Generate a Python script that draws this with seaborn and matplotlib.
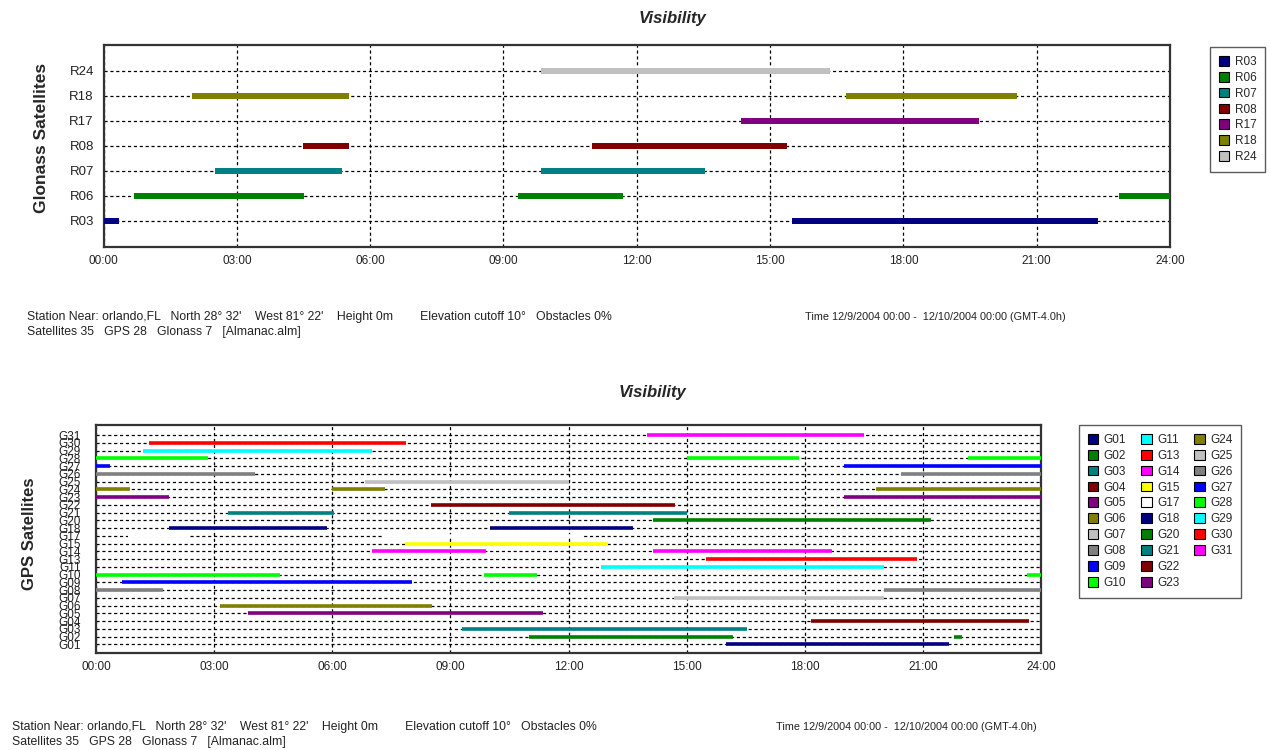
import pandas as pd
import seaborn as sns
import matplotlib.pyplot as plt
from matplotlib.patches import Patch


# satellites shown on each chart (bottom row first)
glo_rows = ['R03', 'R06', 'R07', 'R08', 'R17', 'R18', 'R24']
gps_rows = ['G01', 'G02', 'G03', 'G04', 'G05', 'G06', 'G07', 'G08', 'G09', 'G10',
            'G11', 'G13', 'G14', 'G15', 'G17', 'G18', 'G20', 'G21', 'G22', 'G23',
            'G24', 'G25', 'G26', 'G27', 'G28', 'G29', 'G30', 'G31']

# visibility passes, hours after 12/9/2004 00:00
glo_sat = ['R03', 'R03', 'R06', 'R06', 'R06', 'R07', 'R07', 'R08', 'R08', 'R17',
           'R18', 'R18', 'R24']
glo_start = [0.0, 15.5, 0.68, 9.33, 22.85, 2.5, 9.85, 4.5, 11.0, 14.35, 2.0, 16.7, 9.85]
glo_end = [0.35, 22.37, 4.52, 11.7, 24.0, 5.36, 13.54, 5.53, 15.38, 19.7, 5.53, 20.55, 16.35]

gps_sat = ['G01', 'G02', 'G02', 'G03', 'G04', 'G05', 'G06', 'G07', 'G08', 'G08',
           'G09', 'G10', 'G10', 'G10', 'G11', 'G13', 'G14', 'G14', 'G15', 'G17',
           'G17', 'G18', 'G18', 'G20', 'G21', 'G21', 'G22', 'G23', 'G23', 'G24',
           'G24', 'G24', 'G25', 'G26', 'G26', 'G27', 'G27', 'G28', 'G28', 'G28',
           'G29', 'G30', 'G31']
gps_start = [16.0, 11.0, 21.8, 9.3, 18.15, 3.85, 3.15, 14.67, 0.0, 20.0,
             0.66, 0.0, 9.85, 23.65, 12.83, 15.5, 7.0, 14.15, 7.85, 0.82,
             7.3, 1.85, 10.0, 14.15, 3.36, 10.5, 8.5, 0.0, 19.0, 0.0,
             6.0, 19.8, 6.83, 0.0, 20.45, 0.0, 19.0, 0.0, 15.0, 22.15,
             1.2, 1.35, 14.0]
gps_end = [21.67, 16.17, 22.0, 16.53, 23.7, 11.35, 8.53, 20.0, 1.7, 24.0,
           8.03, 4.68, 11.2, 24.0, 20.0, 20.85, 9.9, 18.7, 13.0, 2.36,
           12.4, 5.87, 13.65, 21.2, 6.04, 15.0, 14.7, 1.86, 24.0, 0.86,
           7.35, 24.0, 12.0, 4.03, 24.0, 0.36, 24.0, 2.85, 17.85, 24.0,
           7.0, 7.87, 19.5]

hour_ticks = [0, 3, 6, 9, 12, 15, 18, 21, 24]
hour_labels = ['00:00', '03:00', '06:00', '09:00', '12:00', '15:00', '18:00', '21:00', '24:00']

# the program cycles through 15 colours in satellite order
color_cycle = ['#000080', '#008000', '#008080', '#800000', '#800080', '#808000',
               '#C0C0C0', '#808080', '#0000FF', '#00FF00', '#00FFFF', '#FF0000',
               '#FF00FF', '#FFFF00', '#FFFFFF']

footer1 = "Station Near: orlando,FL   North 28\u00b0 32'    West 81\u00b0 22'    Height 0m        Elevation cutoff 10\u00b0   Obstacles 0%"
footer2 = "Satellites 35   GPS 28   Glonass 7   [Almanac.alm]"
footer3 = "Time 12/9/2004 00:00 -  12/10/2004 00:00 (GMT-4.0h)"


###############################################################################
def passesToFrame(sats, starts, ends, rows):
    # every pass becomes two points (start, end) joined by one line
    records = []
    for i, (s, a, b) in enumerate(zip(sats, starts, ends)):
        records.append({'sat': s, 'hour': a, 'row': rows.index(s), 'pass': i})
        records.append({'sat': s, 'hour': b, 'row': rows.index(s), 'pass': i})
    return pd.DataFrame(records)


def drawPanel(ax, df, rows, lw, ysize, ypad):
    palette = {s: color_cycle[i % len(color_cycle)] for i, s in enumerate(rows)}
    sns.lineplot(data=df, x='hour', y='row', hue='sat', units='pass', estimator=None,
                 palette=palette, linewidth=lw, solid_capstyle='butt',
                 legend=False, sort=False, ax=ax, zorder=3)
    ax.set_xlim(0, 24)
    ax.set_xticks(hour_ticks)
    ax.set_xticklabels(hour_labels)
    ax.set_yticks(range(len(rows)))
    ax.set_yticklabels(rows)
    ax.set_xlabel('')
    ax.set_ylabel('')
    ax.grid(True, color='black', linestyle=(0, (2.5, 2.2)), linewidth=0.9)
    ax.set_axisbelow(True)
    ax.tick_params(axis='x', length=0, labelsize=8.5, colors='#222222', pad=6)
    ax.tick_params(axis='y', length=0, labelsize=ysize, colors='#222222', pad=ypad)
    for sp in ax.spines.values():
        sp.set_color('#333333')
        sp.set_linewidth(1.6)
    handles = [Patch(facecolor=palette[s], edgecolor='black', linewidth=0.8) for s in rows]
    return handles


sns.set_theme(style='white')
plt.rcParams['font.family'] = ['Liberation Sans', 'DejaVu Sans']

fig = plt.figure(figsize=(12.7, 7.5), dpi=100)

# Glonass chart
ax1 = fig.add_axes([0.0815, 0.6707, 0.8398, 0.2693])
h1 = drawPanel(ax1, passesToFrame(glo_sat, glo_start, glo_end, glo_rows), glo_rows,
               4.3, 9.5, 7)
ax1.set_ylim(-1.04, 7.04)

# GPS chart
ax2 = fig.add_axes([0.0756, 0.1293, 0.7441, 0.304])
h2 = drawPanel(ax2, passesToFrame(gps_sat, gps_start, gps_end, gps_rows), gps_rows,
               2.6, 8.5, 11)
ax2.set_ylim(-1.1, 28.3)

fig.text(672 / 1270, 1 - 18 / 750, 'Visibility', ha='center', va='center',
         fontsize=12, fontweight='bold', fontstyle='italic')
fig.text(652 / 1270, 1 - 393 / 750, 'Visibility', ha='center', va='center',
         fontsize=12, fontweight='bold', fontstyle='italic')
fig.text(42 / 1270, 1 - 138 / 750, 'Glonass Satellites', rotation=90, ha='center',
         va='center', fontsize=12.5, fontweight='bold')
fig.text(30 / 1270, 1 - 534 / 750, 'GPS Satellites', rotation=90, ha='center',
         va='center', fontsize=12, fontweight='bold')

leg_style = dict(loc='upper left', fontsize=8.5, frameon=True, fancybox=False,
                 edgecolor='#333333', handlelength=0.9, handleheight=0.9,
                 labelspacing=0.33, handletextpad=0.45, borderpad=0.75, borderaxespad=0)
leg1 = fig.legend(h1, glo_rows, bbox_to_anchor=(1210 / 1270, 1 - 47 / 750), ncol=1, **leg_style)
leg1.get_frame().set_linewidth(1.0)

# two empty slots so the columns split 10 / 10 / 8 as in the program's legend
blank = Patch(visible=False)
leg2 = fig.legend(h2 + [blank, blank], gps_rows + ['', ''],
                  bbox_to_anchor=(1079 / 1270, 1 - 425 / 750), ncol=3,
                  columnspacing=1.25, **leg_style)
leg2.get_frame().set_linewidth(1.0)

# station info under each chart
for x0, y0, xt in [(27, 317, 805), (12, 727, 776)]:
    fig.text(x0 / 1270, 1 - y0 / 750, footer1, fontsize=8.8, va='center', color='#222222')
    fig.text(x0 / 1270, 1 - (y0 + 15) / 750, footer2, fontsize=8.8, va='center', color='#222222')
    fig.text(xt / 1270, 1 - y0 / 750, footer3, fontsize=7.8, va='center', color='#222222')

plt.savefig('out.png', dpi=100, facecolor='white')
plt.clf()
